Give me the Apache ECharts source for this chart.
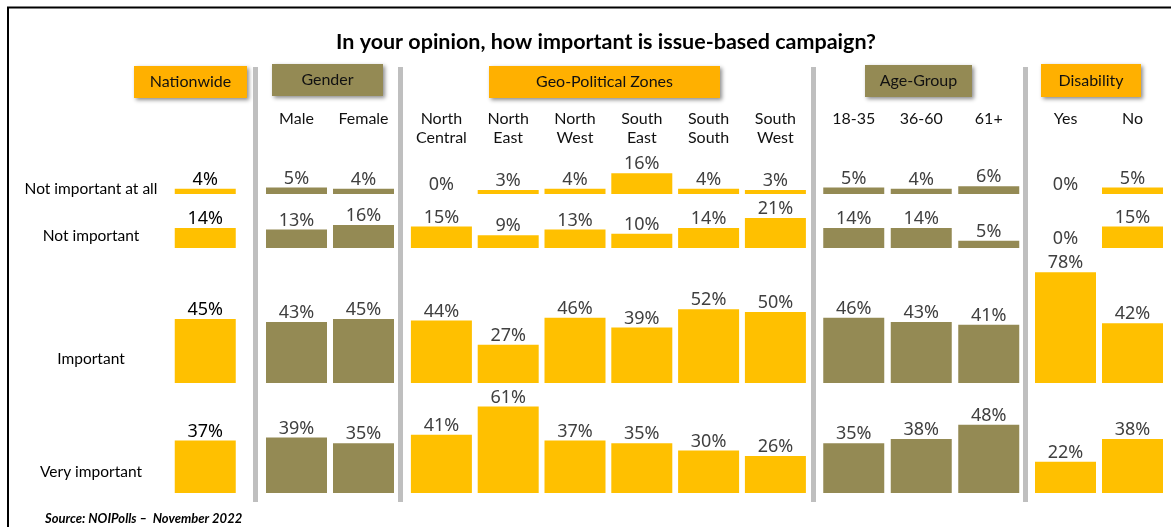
<!DOCTYPE html>
<html>
<head>
<meta charset="utf-8">
<title>Issue-based campaign importance</title>
<script src="https://cdn.jsdelivr.net/npm/echarts@6/dist/echarts.min.js"></script>
<style>
  html, body { margin: 0; padding: 0; background: #ffffff; }
  #chart { width: 1171px; height: 527px; }
</style>
</head>
<body>
<div id="chart"></div>
<script>
// ---- Data -------------------------------------------------------------
const titleText = 'In your opinion, how important is issue-based campaign?';
const sourceText = 'Source: NOIPolls \u2013  November 2022';

const groupNames = ['Nationwide', 'Gender', 'Geo-Political Zones', 'Age-Group', 'Disability'];
const groupSizes = [1, 2, 6, 3, 2];

const segments = ['', 'Male', 'Female',
  'North\nCentral', 'North\nEast', 'North\nWest', 'South\nEast', 'South\nSouth', 'South\nWest',
  '18-35', '36-60', '61+', 'Yes', 'No'];

const responses = ['Not important at all', 'Not important', 'Important', 'Very important'];

const notImportantAtAll = [4, 5, 4, 0, 3, 4, 16, 4, 3, 5, 4, 6, 0, 5];
const notImportant      = [14, 13, 16, 15, 9, 13, 10, 14, 21, 14, 14, 5, 0, 15];
const important         = [45, 43, 45, 44, 27, 46, 39, 52, 50, 46, 43, 41, 78, 42];
const veryImportant     = [37, 39, 35, 41, 61, 37, 35, 30, 26, 35, 38, 48, 22, 38];

const responseValues = [notImportantAtAll, notImportant, important, veryImportant];

// ---- Layout & styling -------------------------------------------------
const YELLOW = '#FFC000';
const OLIVE = '#948A54';
const HEADER_YELLOW = '#FFB000';
const groupBarColors = [YELLOW, OLIVE, YELLOW, OLIVE, YELLOW];
const groupHeaderColors = [HEADER_YELLOW, OLIVE, HEADER_YELLOW, OLIVE, HEADER_YELLOW];

// left edge and column pitch of each group's block of bars
const groupLayout = [
  { left: 172, pitch: 66.5 },
  { left: 263, pitch: 67 },
  { left: 408, pitch: 66.8 },
  { left: 820, pitch: 67.5 },
  { left: 1032, pitch: 67 }
];
// header boxes [x, y, w, h]
const headerBoxes = [
  [134, 66, 113, 32],
  [272, 64, 111, 32],
  [489, 66, 231, 32],
  [865, 65, 107, 32],
  [1041, 64, 100, 33]
];
const separatorsX = [253, 398, 811, 1023];
const rowBaselines = [194, 248, 383, 493];
const rowPxPerPct = [1.3, 1.43, 1.42, 1.42];
const rowLabelY = [189, 236, 359, 472];
const BAR_WIDTH = 61;

const FONT = 'Lato, "Noto Sans", sans-serif';
const LABEL_FONT = '"Noto Sans", sans-serif';

// ---- Build grids / axes / series --------------------------------------
const grids = [], xAxes = [], yAxes = [], series = [];

responseValues.forEach((values, r) => {
  let start = 0;
  groupSizes.forEach((size, g) => {
    const idx = grids.length;
    const L = groupLayout[g];
    const h = 100 * rowPxPerPct[r];
    grids.push({ left: L.left, width: L.pitch * size, top: rowBaselines[r] - h, height: h });
    xAxes.push({ type: 'category', gridIndex: idx, data: segments.slice(start, start + size), show: false });
    yAxes.push({ type: 'value', gridIndex: idx, min: 0, max: 100, show: false });
    const isNational = g === 0;
    series.push({
      type: 'bar',
      name: responses[r] + ' - ' + groupNames[g],
      xAxisIndex: idx,
      yAxisIndex: idx,
      barWidth: BAR_WIDTH,
      data: values.slice(start, start + size),
      itemStyle: { color: groupBarColors[g] },
      label: {
        show: true,
        position: 'top',
        distance: 0,
        formatter: '{c}%',
        fontFamily: LABEL_FONT,
        fontSize: 18,
        color: isNational ? '#000000' : '#404040'
      }
    });
    start += size;
  });
});

// ---- Decorations ------------------------------------------------------
const graphics = [];

// frame
graphics.push({
  type: 'rect', silent: true,
  shape: { x: 8, y: 7.5, width: 1300, height: 700 },
  style: { fill: 'none', stroke: '#000000', lineWidth: 2 }
});

// group separators
separatorsX.forEach(x => {
  graphics.push({
    type: 'rect', silent: true,
    shape: { x: x, y: 67, width: 5, height: 435 },
    style: { fill: '#BFBFBF' }
  });
});

// group header boxes
groupNames.forEach((name, g) => {
  const [x, y, w, hh] = headerBoxes[g];
  graphics.push({
    type: 'rect', silent: true,
    shape: { x: x, y: y, width: w, height: hh },
    style: {
      fill: groupHeaderColors[g],
      shadowBlur: 4, shadowOffsetX: 2, shadowOffsetY: 2,
      shadowColor: 'rgba(0,0,0,0.45)'
    },
    textContent: {
      style: { text: name, fill: '#111111', font: '16px ' + FONT }
    },
    textConfig: { position: 'inside' }
  });
});

// segment (column) labels
{
  let k = 0;
  groupSizes.forEach((size, g) => {
    const L = groupLayout[g];
    for (let i = 0; i < size; i++, k++) {
      if (!segments[k]) continue;
      graphics.push({
        type: 'text', silent: true,
        x: L.left + (i + 0.5) * L.pitch, y: 109,
        style: {
          text: segments[k], fill: '#111111', font: '16px ' + FONT,
          textAlign: 'center', textVerticalAlign: 'top', lineHeight: 19
        }
      });
    }
  });
}

// response (row) labels
responses.forEach((name, r) => {
  graphics.push({
    type: 'text', silent: true,
    x: 91, y: rowLabelY[r],
    style: { text: name, fill: '#000000', font: '15.5px ' + FONT, textAlign: 'center', textVerticalAlign: 'middle' }
  });
});

// title
graphics.push({
  type: 'text', silent: true,
  x: 606, y: 42,
  style: { text: titleText, fill: '#000000', font: 'bold 21.5px ' + FONT, textAlign: 'center', textVerticalAlign: 'middle' }
});

// source note
graphics.push({
  type: 'text', silent: true,
  x: 45, y: 519,
  style: { text: sourceText, fill: '#000000', font: 'italic bold 13px ' + FONT, textAlign: 'left', textVerticalAlign: 'middle' }
});

const chart = echarts.init(document.getElementById('chart'), null, { renderer: 'canvas' });
chart.setOption({
  animation: false,
  backgroundColor: '#ffffff',
  grid: grids,
  xAxis: xAxes,
  yAxis: yAxes,
  series: series,
  graphic: { elements: graphics }
});
</script>
</body>
</html>
